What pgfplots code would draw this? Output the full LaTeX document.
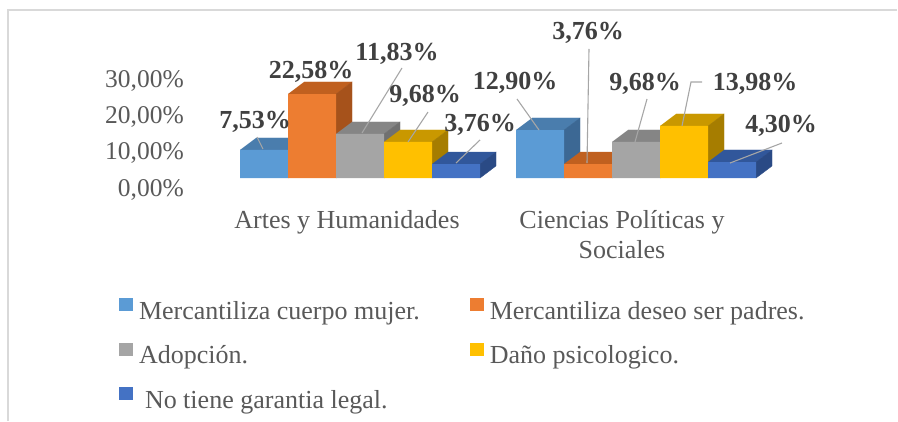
\documentclass[border=0pt]{standalone}
\usepackage{pgfplots}
\pgfplotsset{compat=1.18}
\usepackage{fontspec}
\setmainfont{Liberation Serif}
\newcommand{\fs}[1]{\fontsize{#1bp}{#1bp}\selectfont}
\definecolor{textgray}{HTML}{595959}
\definecolor{labgray}{HTML}{404040}
\definecolor{leadgray}{HTML}{A6A6A6}
\definecolor{framegray}{HTML}{D9D9D9}
\definecolor{cA}{HTML}{5B9BD5}\definecolor{cAt}{HTML}{4A7DAD}\definecolor{cAs}{HTML}{3C6894}
\definecolor{cB}{HTML}{ED7D31}\definecolor{cBt}{HTML}{C0601F}\definecolor{cBs}{HTML}{A6521B}
\definecolor{cC}{HTML}{A5A5A5}\definecolor{cCt}{HTML}{858585}\definecolor{cCs}{HTML}{707070}
\definecolor{cD}{HTML}{FFC000}\definecolor{cDt}{HTML}{C99800}\definecolor{cDs}{HTML}{A67D00}
\definecolor{cE}{HTML}{4472C4}\definecolor{cEt}{HTML}{31579B}\definecolor{cEs}{HTML}{2A4A85}
\begin{document}
\begin{tikzpicture}
\begin{axis}[
  scale only axis, width=898bp, height=421bp,
  xmin=0, xmax=898, ymin=-65.32, ymax=47.85,
  axis line style={draw=none}, tick style={draw=none}, major tick length=0pt,
  xtick=\empty,
  ytick={-4.84,4.84,14.52,24.46},
  yticklabels={{0,00\%},{10,00\%},{20,00\%},{30,00\%}},
  yticklabel style={anchor=base east, xshift=184bp, inner sep=0pt, text=textgray, font=\fs{25.5}},
  clip=false,
  legend columns=2,
  legend cell align=left,
  legend image code/.code={\fill[#1, draw=none] (0bp,2bp) rectangle (14bp,15bp);},
  legend style={at={(axis cs:119,-32.26)}, anchor=north west, draw=none, fill=none,
    inner sep=0pt, outer sep=0pt, row sep=17.5bp, column sep=6bp,
    /tikz/every even column/.append style={column sep=50bp},
    font=\fs{26}, text=textgray,
    nodes={inner sep=0pt, text height=18bp, text depth=6bp}},
]
% frame
\addplot[framegray, line width=1.5bp, forget plot] coordinates {(8,-65.32) (8,45.16)};
\addplot[framegray, line width=1.5bp, line cap=butt, forget plot] coordinates {(7.25,45.16) (860,45.16)};
\addplot[framegray, line width=1.5bp, line cap=butt, forget plot] coordinates {(859,45.16) (897,45.16)};

% top and side faces (series order keeps left-to-right order within each group)
\addplot[fill=cAt, draw=cAt, line width=0.3bp, forget plot] coordinates {(240,7.53) (288,7.53) (304,10.76) (256,10.76)};
\addplot[fill=cAs, draw=cAs, line width=0.3bp, forget plot] coordinates {(288,0) (304,3.23) (304,10.76) (288,7.53)};
\addplot[fill=cAt, draw=cAt, line width=0.3bp, forget plot] coordinates {(516,12.90) (564,12.90) (580,16.13) (532,16.13)};
\addplot[fill=cAs, draw=cAs, line width=0.3bp, forget plot] coordinates {(564,0) (580,3.23) (580,16.13) (564,12.90)};

\addplot[fill=cBt, draw=cBt, line width=0.3bp, forget plot] coordinates {(288,22.58) (336,22.58) (352,25.81) (304,25.81)};
\addplot[fill=cBs, draw=cBs, line width=0.3bp, forget plot] coordinates {(336,0) (352,3.23) (352,25.81) (336,22.58)};
\addplot[fill=cBt, draw=cBt, line width=0.3bp, forget plot] coordinates {(564,3.76) (612,3.76) (628,6.99) (580,6.99)};
\addplot[fill=cBs, draw=cBs, line width=0.3bp, forget plot] coordinates {(612,0) (628,3.23) (628,6.99) (612,3.76)};

\addplot[fill=cCt, draw=cCt, line width=0.3bp, forget plot] coordinates {(336,11.83) (384,11.83) (400,15.06) (352,15.06)};
\addplot[fill=cCs, draw=cCs, line width=0.3bp, forget plot] coordinates {(384,0) (400,3.23) (400,15.06) (384,11.83)};
\addplot[fill=cCt, draw=cCt, line width=0.3bp, forget plot] coordinates {(612,9.68) (660,9.68) (676,12.91) (628,12.91)};
\addplot[fill=cCs, draw=cCs, line width=0.3bp, forget plot] coordinates {(660,0) (676,3.23) (676,12.91) (660,9.68)};

\addplot[fill=cDt, draw=cDt, line width=0.3bp, forget plot] coordinates {(384,9.68) (432,9.68) (448,12.91) (400,12.91)};
\addplot[fill=cDs, draw=cDs, line width=0.3bp, forget plot] coordinates {(432,0) (448,3.23) (448,12.91) (432,9.68)};
\addplot[fill=cDt, draw=cDt, line width=0.3bp, forget plot] coordinates {(660,13.98) (708,13.98) (724,17.21) (676,17.21)};
\addplot[fill=cDs, draw=cDs, line width=0.3bp, forget plot] coordinates {(708,0) (724,3.23) (724,17.21) (708,13.98)};

\addplot[fill=cEt, draw=cEt, line width=0.3bp, forget plot] coordinates {(432,3.76) (480,3.76) (496,6.99) (448,6.99)};
\addplot[fill=cEs, draw=cEs, line width=0.3bp, forget plot] coordinates {(480,0) (496,3.23) (496,6.99) (480,3.76)};
\addplot[fill=cEt, draw=cEt, line width=0.3bp, forget plot] coordinates {(708,4.30) (756,4.30) (772,7.53) (724,7.53)};
\addplot[fill=cEs, draw=cEs, line width=0.3bp, forget plot] coordinates {(756,0) (772,3.23) (772,7.53) (756,4.30)};

% front faces
\addplot[ybar, bar width=48, bar shift=0pt, fill=cA, draw=none, forget plot] coordinates {(264,7.53) (540,12.90)};
\addplot[ybar, bar width=48, bar shift=0pt, fill=cB, draw=none, forget plot] coordinates {(312,22.58) (588,3.76)};
\addplot[ybar, bar width=48, bar shift=0pt, fill=cC, draw=none, forget plot] coordinates {(360,11.83) (636,9.68)};
\addplot[ybar, bar width=48, bar shift=0pt, fill=cD, draw=none, forget plot] coordinates {(408,9.68) (684,13.98)};
\addplot[ybar, bar width=48, bar shift=0pt, fill=cE, draw=none, forget plot] coordinates {(456,3.76) (732,4.30)};

% leader lines
\addplot[leadgray, line width=1.1bp, forget plot] coordinates {(257,11.02) (263,7.80)};
\addplot[leadgray, line width=1.1bp, forget plot] coordinates {(402,29.57) (362,12.10)};
\addplot[leadgray, line width=1.1bp, forget plot] coordinates {(428,17.74) (408,9.68)};
\addplot[leadgray, line width=1.1bp, forget plot] coordinates {(480,10.22) (456,4.03)};
\addplot[leadgray, line width=1.1bp, forget plot] coordinates {(517,21.24) (539,12.90)};
\addplot[leadgray, line width=1.1bp, forget plot] coordinates {(589,34.68) (587,4.03)};
\addplot[leadgray, line width=1.1bp, forget plot] coordinates {(647,21.24) (635,9.68)};
\addplot[leadgray, line width=1.1bp, forget plot] coordinates {(702,25.81) (691,25.81) (682,13.98)};
\addplot[leadgray, line width=1.1bp, forget plot] coordinates {(782,9.41) (730,4.03)};

% data labels
\begin{scope}[every node/.style={anchor=base, inner sep=0pt, text=labgray, font=\fs{26}\bfseries}]
\node at (axis cs:255,13.44) {7,53\%};
\node at (axis cs:311,26.88) {22,58\%};
\node at (axis cs:397,31.72) {11,83\%};
\node at (axis cs:425,20.43) {9,68\%};
\node at (axis cs:480,12.37) {3,76\%};
\node at (axis cs:515,23.66) {12,90\%};
\node at (axis cs:588,37.10) {3,76\%};
\node at (axis cs:645,23.39) {9,68\%};
\node at (axis cs:755,23.39) {13,98\%};
\node at (axis cs:781,12.10) {4,30\%};
\end{scope}

% category labels
\begin{scope}[every node/.style={anchor=base, inner sep=0pt, text=textgray, font=\fs{26}}]
\node at (axis cs:347,-13.44) {Artes y Humanidades};
\node at (axis cs:622,-13.44) {Ciencias Políticas y};
\node at (axis cs:622,-21.51) {Sociales};
\end{scope}

% legend
\addlegendimage{fill=cA}\addlegendentry{Mercantiliza cuerpo mujer.}
\addlegendimage{fill=cB}\addlegendentry{Mercantiliza deseo ser padres.}
\addlegendimage{fill=cC}\addlegendentry{Adopción.}
\addlegendimage{fill=cD}\addlegendentry{Daño psicologico.}
\addlegendimage{fill=cE}\addlegendentry{\hspace*{6bp}No tiene garantia legal.}
\end{axis}
\end{tikzpicture}
\end{document}
